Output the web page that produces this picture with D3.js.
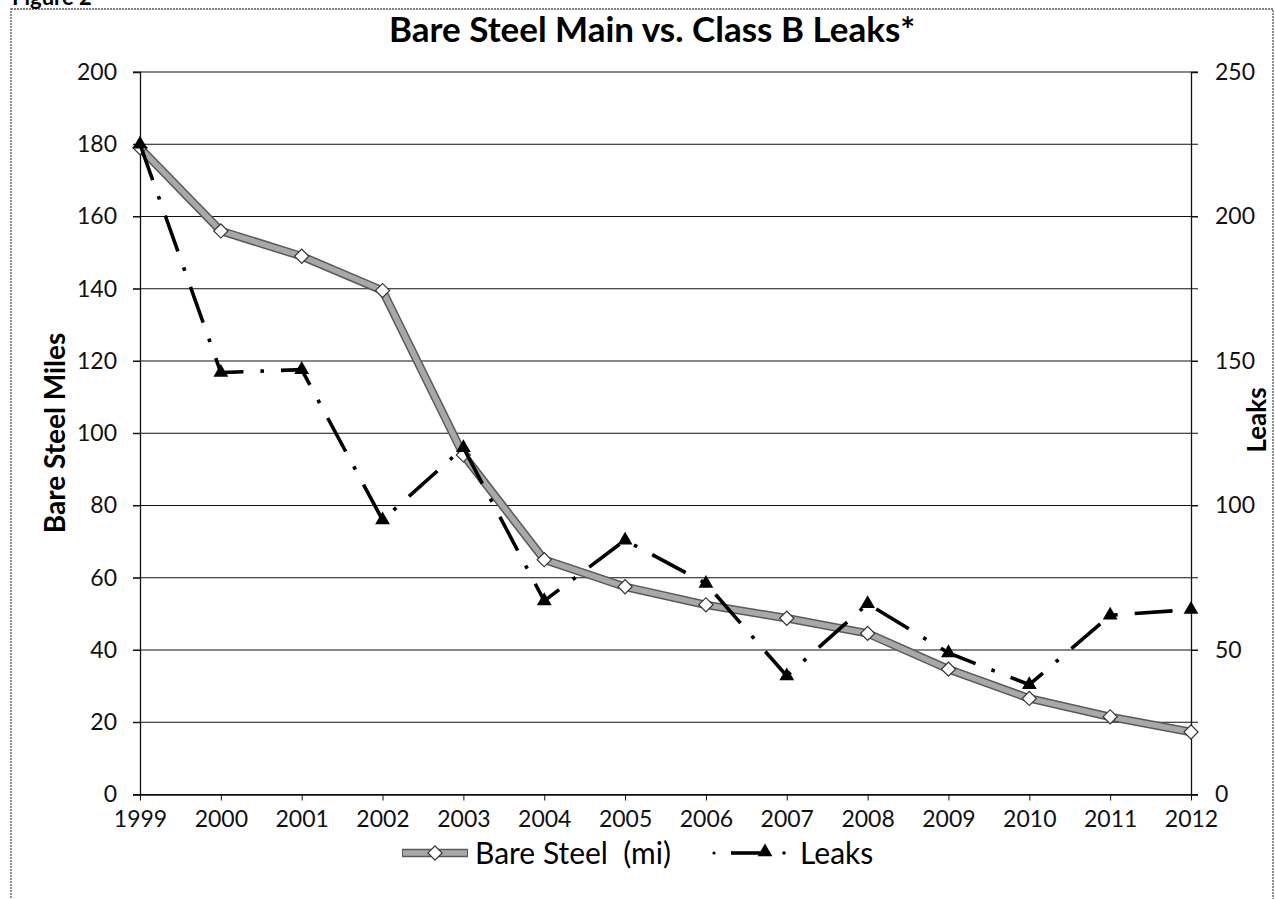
<!DOCTYPE html>
<html>
<head>
<meta charset="utf-8">
<script src="https://cdn.jsdelivr.net/npm/d3@7"></script>
<style>
  body { margin: 0; background: #fff; }
  svg { display: block; font-family: Lato, "Open Sans", sans-serif; }
</style>
</head>
<body>
<svg id="chart" width="1275" height="899"></svg>
<script>
// data
const years = [1999, 2000, 2001, 2002, 2003, 2004, 2005, 2006, 2007, 2008, 2009, 2010, 2011, 2012];
const bareSteel = [179, 156, 149, 139.5, 94, 65, 57.5, 52.5, 48.8, 44.6, 34.7, 26.6, 21.5, 17.3];
const leaks = [225, 146, 147, 95, 120, 67, 88, 73, 41, 66, 49, 38, 62, 64];
const leftTicks = [0, 20, 40, 60, 80, 100, 120, 140, 160, 180, 200];
const rightTicks = [0, 50, 100, 150, 200, 250];

const width = 1275, height = 899;
const margin = {top: 72, right: 84, bottom: 104.5, left: 140};

const svg = d3.select('#chart');

const x = d3.scalePoint()
  .domain(years)
  .range([margin.left, width - margin.right]);

const yL = d3.scaleLinear()
  .domain([0, 200])
  .range([height - margin.bottom, margin.top]);

const yR = d3.scaleLinear()
  .domain([0, 250])
  .range([height - margin.bottom, margin.top]);

// scanned page frame + cut-off figure caption
svg.append('rect')
  .attr('x', 11).attr('y', 9)
  .attr('width', 1262).attr('height', 900)
  .attr('fill', 'none')
  .attr('stroke', '#555')
  .attr('stroke-width', 1.3)
  .attr('stroke-dasharray', '2,1');

svg.append('text')
  .attr('x', 12).attr('y', 5)
  .attr('font-weight', 'bold')
  .attr('font-size', 22)
  .text('Figure 2');

// gridlines
svg.append('g')
  .selectAll('line')
  .data(leftTicks)
  .join('line')
  .attr('x1', margin.left - 7)
  .attr('x2', width - margin.right + 7)
  .attr('y1', d => yL(d))
  .attr('y2', d => yL(d))
  .attr('stroke', '#111')
  .attr('stroke-width', 1.2);

const styleAxis = g => g
  .call(g => g.select('.domain').attr('stroke', '#111').attr('stroke-width', 1.3))
  .call(g => g.selectAll('.tick line').attr('stroke', '#111'))
  .call(g => g.selectAll('text').attr('font-size', 23).attr('fill', '#111').attr('font-family', 'Lato'));

svg.append('g')
  .attr('transform', `translate(${margin.left},0)`)
  .call(d3.axisLeft(yL).tickValues(leftTicks).tickSize(7).tickPadding(16))
  .call(styleAxis);

svg.append('g')
  .attr('transform', `translate(${width - margin.right},0)`)
  .call(d3.axisRight(yR).tickValues(rightTicks).tickSize(7).tickPadding(17))
  .call(styleAxis);

svg.append('g')
  .attr('transform', `translate(0,${height - margin.bottom})`)
  .call(d3.axisBottom(x).tickSize(6).tickPadding(10).tickSizeOuter(0))
  .call(styleAxis);

// axis titles
svg.append('text')
  .attr('transform', 'translate(65,433) rotate(-90)')
  .attr('text-anchor', 'middle')
  .attr('font-weight', 'bold')
  .attr('font-size', 28)
  .text('Bare Steel Miles');

svg.append('text')
  .attr('transform', 'translate(1266,420) rotate(-90)')
  .attr('text-anchor', 'middle')
  .attr('font-weight', 'bold')
  .attr('font-size', 26)
  .text('Leaks');

svg.append('text')
  .attr('x', 652).attr('y', 42)
  .attr('text-anchor', 'middle')
  .attr('font-weight', 'bold')
  .attr('font-size', 35)
  .text('Bare Steel Main vs. Class B Leaks*');

// bare steel line
const steelLine = d3.line()
  .x((d, i) => x(years[i]))
  .y(d => yL(d));

svg.append('path')
  .datum(bareSteel)
  .attr('fill', 'none')
  .attr('stroke', '#5a5a5a')
  .attr('stroke-width', 8.5)
  .attr('stroke-linejoin', 'round')
  .attr('d', steelLine);

svg.append('path')
  .datum(bareSteel)
  .attr('fill', 'none')
  .attr('stroke', '#a8a8a8')
  .attr('stroke-width', 5.5)
  .attr('stroke-linejoin', 'round')
  .attr('d', steelLine);

const diamond = d3.symbol().type(d3.symbolSquare).size(100);

svg.append('g')
  .selectAll('path')
  .data(bareSteel)
  .join('path')
  .attr('d', diamond)
  .attr('transform', (d, i) => `translate(${x(years[i])},${yL(d)}) rotate(45)`)
  .attr('fill', '#fff')
  .attr('stroke', '#333')
  .attr('stroke-width', 1.2);

// leaks line
const leakLine = d3.line()
  .x((d, i) => x(years[i]))
  .y(d => yR(d));

svg.append('path')
  .datum(leaks)
  .attr('fill', 'none')
  .attr('stroke', '#000')
  .attr('stroke-width', 3.6)
  .attr('stroke-dasharray', '38,17,3.6,17')
  .attr('d', leakLine);

const tri = d3.symbol().type(d3.symbolTriangle).size(95);

svg.append('g')
  .selectAll('path')
  .data(leaks)
  .join('path')
  .attr('d', tri)
  .attr('transform', (d, i) => `translate(${x(years[i])},${yR(d)})`)
  .attr('fill', '#000');

// legend
const legend = svg.append('g');

legend.append('line')
  .attr('x1', 402).attr('x2', 468)
  .attr('y1', 853).attr('y2', 853)
  .attr('stroke', '#5a5a5a').attr('stroke-width', 8.5);
legend.append('line')
  .attr('x1', 403).attr('x2', 467)
  .attr('y1', 853).attr('y2', 853)
  .attr('stroke', '#a8a8a8').attr('stroke-width', 5.5);
legend.append('path')
  .attr('d', diamond)
  .attr('transform', 'translate(435,853) rotate(45)')
  .attr('fill', '#fff').attr('stroke', '#333').attr('stroke-width', 1.2);
legend.append('text')
  .attr('x', 475).attr('y', 864)
  .attr('font-size', 30)
  .style('white-space', 'pre')
  .text('Bare Steel  (mi)');

legend.append('circle')
  .attr('cx', 714).attr('cy', 853).attr('r', 1.6).attr('fill', '#000');
legend.append('line')
  .attr('x1', 731).attr('x2', 762)
  .attr('y1', 853).attr('y2', 853)
  .attr('stroke', '#000').attr('stroke-width', 3.6);
legend.append('path')
  .attr('d', tri)
  .attr('transform', 'translate(765,852)')
  .attr('fill', '#000');
legend.append('circle')
  .attr('cx', 784).attr('cy', 853).attr('r', 1.8).attr('fill', '#000');
legend.append('text')
  .attr('x', 800).attr('y', 864)
  .attr('font-size', 30)
  .text('Leaks');
</script>
</body>
</html>
